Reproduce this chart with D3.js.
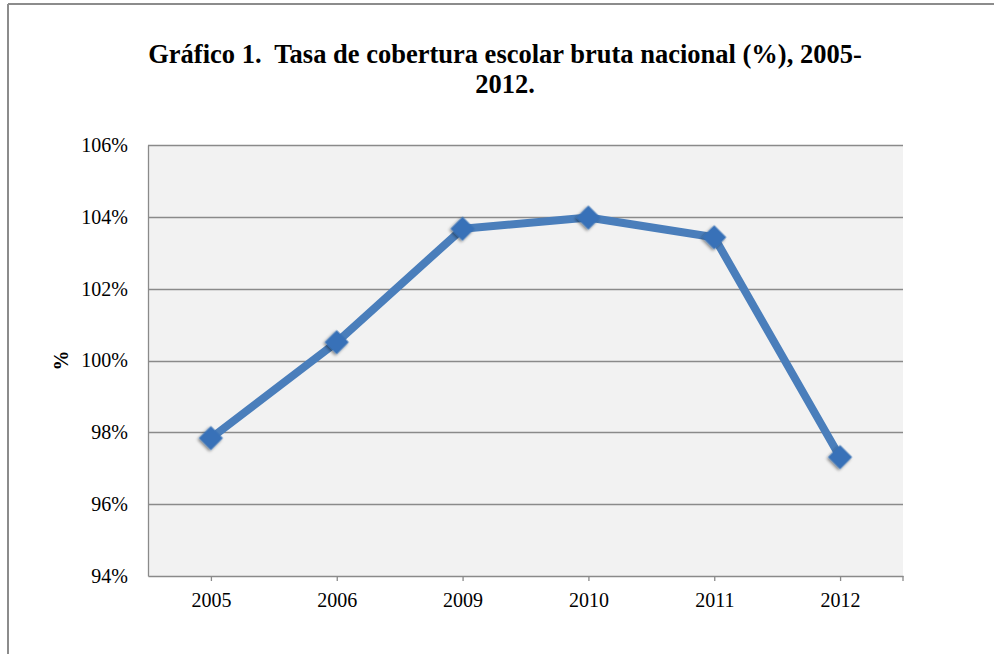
<!DOCTYPE html>
<html>
<head>
<meta charset="utf-8">
<script src="https://cdn.jsdelivr.net/npm/d3@7"></script>
<style>
  html, body { margin: 0; padding: 0; background: #ffffff; }
  svg { display: block; }
</style>
</head>
<body>
<svg id="chart" width="994" height="654"></svg>
<script>
// Gross national school enrolment rate, by year
const years = ["2005", "2006", "2009", "2010", "2011", "2012"];
const coverage = [97.84, 100.51, 103.67, 103.98, 103.43, 97.31];
const yTicks = [94, 96, 98, 100, 102, 104, 106];
const titleLines = ["Gráfico 1.  Tasa de cobertura escolar bruta nacional (%), 2005-", "2012."];
const yAxisTitle = "%";

const W = 994, H = 654;
const plot = { left: 148, right: 903, top: 145, bottom: 576 };
const serif = "'Liberation Serif', 'Times New Roman', serif";

const svg = d3.select("#chart");

// drop shadow for the markers
const defs = svg.append("defs");
const shadow = defs.append("filter").attr("id", "mkShadow")
  .attr("x", "-50%").attr("y", "-50%").attr("width", "200%").attr("height", "200%");
shadow.append("feDropShadow").attr("dx", 0).attr("dy", 2).attr("stdDeviation", 1.8)
  .attr("flood-color", "#000").attr("flood-opacity", 0.45);

// outer frame (top and left edges)
svg.append("line").attr("x1", 8).attr("x2", W).attr("y1", 4).attr("y2", 4)
  .attr("stroke", "#8c8c8c").attr("stroke-width", 2);
svg.append("line").attr("x1", 8).attr("x2", 8).attr("y1", 4).attr("y2", H)
  .attr("stroke", "#8c8c8c").attr("stroke-width", 2);

// title
svg.append("text")
  .attr("x", 505).attr("y", 63)
  .attr("text-anchor", "middle")
  .style("white-space", "pre")
  .attr("font-family", serif).attr("font-weight", "bold").attr("font-size", 26.5)
  .attr("fill", "#000")
  .selectAll("tspan").data(titleLines).join("tspan")
  .attr("x", 505).attr("dy", (d, i) => i === 0 ? 0 : 30)
  .text(d => d);

const x = d3.scalePoint().domain(years).range([plot.left, plot.right]).padding(0.5);
const y = d3.scaleLinear().domain([94, 106]).range([plot.bottom, plot.top]);

// plot background
svg.append("rect")
  .attr("x", plot.left).attr("y", plot.top)
  .attr("width", plot.right - plot.left).attr("height", plot.bottom - plot.top)
  .attr("fill", "#f2f2f2");

// horizontal gridlines
svg.append("g").selectAll("line").data(yTicks.filter(t => t > 94)).join("line")
  .attr("x1", plot.left).attr("x2", plot.right)
  .attr("y1", d => Math.round(y(d)) + 0.5).attr("y2", d => Math.round(y(d)) + 0.5)
  .attr("stroke", "#8a8a8a").attr("stroke-width", 1.3);

// y axis
const yAxis = svg.append("g")
  .attr("transform", `translate(${plot.left},0)`)
  .call(d3.axisLeft(y).tickValues(yTicks).tickFormat(d => d + "%").tickSize(0).tickPadding(20));
yAxis.select(".domain").attr("stroke", "#8a8a8a").attr("stroke-width", 1.3);
yAxis.selectAll("text").attr("font-family", serif).attr("font-size", 20).attr("fill", "#000");

// x axis
const xAxis = svg.append("g")
  .attr("transform", `translate(0,${plot.bottom})`)
  .call(d3.axisBottom(x).tickSize(5).tickSizeOuter(0).tickPadding(12));
xAxis.select(".domain").attr("stroke", "#8a8a8a").attr("stroke-width", 1.3);
xAxis.selectAll(".tick line").attr("stroke", "#8a8a8a").attr("stroke-width", 1.3);
xAxis.selectAll("text").attr("font-family", serif).attr("font-size", 20).attr("fill", "#000");
// closing tick at the right end of the category axis
svg.append("line")
  .attr("x1", plot.right).attr("x2", plot.right)
  .attr("y1", plot.bottom).attr("y2", plot.bottom + 5)
  .attr("stroke", "#8a8a8a").attr("stroke-width", 1.3);

// y axis title
svg.append("text")
  .attr("transform", `translate(68,${(plot.top + plot.bottom) / 2}) rotate(-90)`)
  .attr("text-anchor", "middle")
  .attr("font-family", serif).attr("font-weight", "bold").attr("font-size", 20)
  .text(yAxisTitle);

// series line
const pts = years.map((yr, i) => [x(yr), y(coverage[i])]);
svg.append("path")
  .attr("d", d3.line()(pts))
  .attr("fill", "none")
  .attr("stroke", "#4a7ebb").attr("stroke-width", 8)
  .attr("stroke-linejoin", "round");

// diamond markers
svg.append("g").selectAll("path").data(pts).join("path")
  .attr("d", d3.symbol().type(d3.symbolSquare).size(290))
  .attr("transform", d => `translate(${d[0]},${d[1]}) rotate(45)`)
  .attr("fill", "#3871b8")
  .attr("filter", "url(#mkShadow)");
</script>
</body>
</html>
